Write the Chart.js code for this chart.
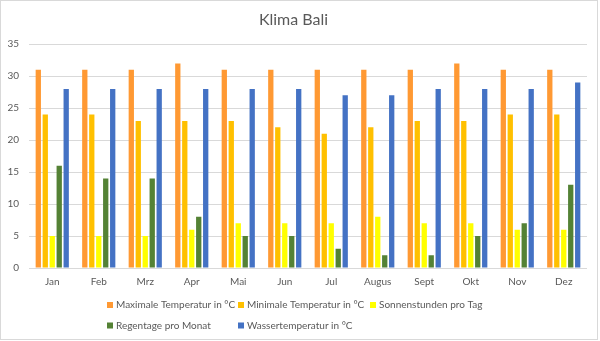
<!DOCTYPE html>
<html>
<head>
<meta charset="utf-8">
<title>Klima Bali</title>
<script src="https://cdn.jsdelivr.net/npm/chart.js@4/dist/chart.umd.min.js"></script>
<style>
  html, body { margin: 0; padding: 0; background: #fff; }
  canvas { display: block; }
</style>
</head>
<body>
<canvas id="klimaChart" width="600" height="341"></canvas>
<script>
// Monate und Werte
const months = ['Jan', 'Feb', 'Mrz', 'Apr', 'Mai', 'Jun', 'Jul', 'Augus', 'Sept', 'Okt', 'Nov', 'Dez'];
const maxTemp = [31, 31, 31, 32, 31, 31, 31, 31, 31, 32, 31, 31];
const minTemp = [24, 24, 23, 23, 23, 22, 21, 22, 23, 23, 24, 24];
const sunHours = [5, 5, 5, 6, 7, 7, 7, 8, 7, 7, 6, 6];
const rainDays = [16, 14, 14, 8, 5, 5, 3, 2, 2, 5, 7, 13];
const waterTemp = [28, 28, 28, 28, 28, 28, 27, 27, 28, 28, 28, 29];
const yTicks = [0, 5, 10, 15, 20, 25, 30, 35];

const textColor = '#595959';
const gridColor = '#d9d9d9';

// Legende wie in Excel: zwei Zeilen, feste Spalten
const excelLegend = {
    id: 'excelLegend',
    afterDraw(chart) {
        const ctx = chart.ctx;
        const cols = [107, 238, 370];
        const rows = [305, 325.5];
        ctx.save();
        ctx.font = '10px Lato';
        ctx.textBaseline = 'middle';
        ctx.textAlign = 'left';
        chart.data.datasets.forEach((ds, i) => {
            const x = cols[i < 3 ? i : i - 3];
            const y = rows[i < 3 ? 0 : 1];
            ctx.fillStyle = ds.backgroundColor;
            ctx.fillRect(x, y - 3, 6, 6);
            ctx.fillStyle = textColor;
            ctx.fillText(ds.label, x + 9, y);
        });
        ctx.restore();
    }
};

// dünner Rahmen um das Diagramm
const frame = {
    id: 'frame',
    afterDraw(chart) {
        const ctx = chart.ctx;
        ctx.save();
        ctx.strokeStyle = gridColor;
        ctx.lineWidth = 1;
        ctx.strokeRect(0.5, 0.5, 597, 339);
        ctx.restore();
    }
};

const ctx = document.getElementById('klimaChart').getContext('2d');

const chartData = {
    labels: months,
    datasets: [
        { label: 'Maximale Temperatur in °C', data: maxTemp, backgroundColor: '#FF9933' },
        { label: 'Minimale Temperatur in °C', data: minTemp, backgroundColor: '#FFC000' },
        { label: 'Sonnenstunden pro Tag', data: sunHours, backgroundColor: '#FFFF00' },
        { label: 'Regentage pro Monat', data: rainDays, backgroundColor: '#548235' },
        { label: 'Wassertemperatur in °C', data: waterTemp, backgroundColor: '#4472C4' }
    ]
};

const klimaChart = new Chart(ctx, {
    type: 'bar',
    data: chartData,
    options: {
        responsive: false,
        animation: false,
        layout: { padding: { left: 0, right: 13, top: 0, bottom: 53 } },
        datasets: {
            bar: { categoryPercentage: 0.75, barPercentage: 0.76 }
        },
        plugins: {
            legend: { display: false },
            tooltip: { enabled: false },
            title: {
                display: true,
                text: 'Klima Bali',
                color: textColor,
                font: { family: 'Lato', size: 16, weight: 'normal' },
                padding: { top: 10, bottom: 15 }
            }
        },
        scales: {
            x: {
                grid: { display: false, drawTicks: false },
                border: { display: false },
                ticks: { color: textColor, font: { family: 'Lato', size: 10 }, padding: 8, maxRotation: 0 },
                afterFit: scale => { scale.height = 20; }
            },
            y: {
                min: 0,
                max: 35,
                afterBuildTicks: scale => { scale.ticks = yTicks.map(v => ({ value: v })); },
                grid: { color: gridColor, drawTicks: false },
                border: { display: false },
                ticks: { color: textColor, font: { family: 'Lato', size: 10 }, padding: 10 },
                afterFit: scale => { scale.width = 29; }
            }
        }
    },
    plugins: [excelLegend, frame]
});
</script>
</body>
</html>
